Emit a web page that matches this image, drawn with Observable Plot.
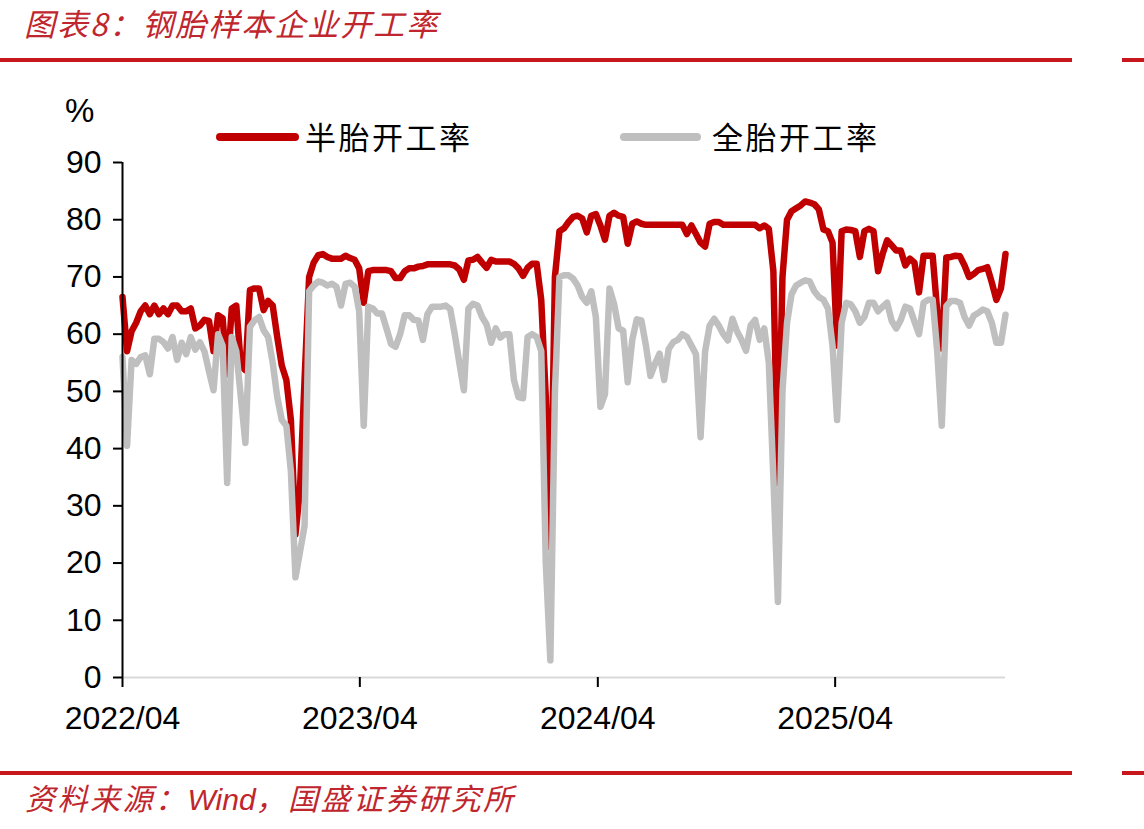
<!DOCTYPE html>
<html><head><meta charset="utf-8">
<script src="https://cdn.jsdelivr.net/npm/d3@7"></script>
<script src="https://cdn.jsdelivr.net/npm/@observablehq/plot@0.6"></script>
<style>
html,body{margin:0;padding:0;background:#fff;}
#wrap{position:relative;width:1144px;height:829px;overflow:hidden;background:#fff;}
#chart{position:absolute;left:0;top:0;}
.abs{position:absolute;white-space:nowrap;}
.cjk{font-family:"Noto Sans CJK SC",sans-serif;}
.rule{position:absolute;height:4px;background:#c8161d;}
</style>
</head><body>
<div id="wrap">
  <div id="chart"></div>
  <div class="abs cjk" id="title" style="left:24px;top:0px;padding-right:10px;font-size:31px;line-height:46px;letter-spacing:2px;font-style:italic;color:#c0262d;">图表8：钢胎样本企业开工率</div>
  <div class="rule" style="left:0;top:58px;width:1072px;"></div>
  <div class="rule" style="left:1122px;top:58px;width:22px;"></div>
  <div class="abs" style="left:65px;top:94px;font-family:'Liberation Sans',Arial,sans-serif;font-size:33px;line-height:33px;color:#000;">%</div>
  <div class="abs" style="left:216px;top:133px;width:83px;height:8px;background:#c00000;border-radius:4px;"></div>
  <div class="abs cjk" id="leg1" style="left:305px;top:119px;font-size:31px;line-height:34px;letter-spacing:2.5px;color:#000;"></div>
  <div class="abs" style="left:620px;top:133px;width:81px;height:8px;background:#bfbfbf;border-radius:4px;"></div>
  <div class="abs cjk" id="leg2" style="left:712px;top:119px;font-size:31px;line-height:34px;letter-spacing:2.5px;color:#000;"></div>
  <div class="rule" style="left:0;top:771px;width:1072px;"></div>
  <div class="rule" style="left:1122px;top:771px;width:22px;"></div>
  <div class="abs cjk" style="left:25px;top:780px;padding-right:10px;font-size:30px;line-height:34px;letter-spacing:2.5px;font-style:italic;color:#c0262d;">资料来源：<span style="font-family:'Liberation Sans',Arial,sans-serif;letter-spacing:0;">Wind</span>，国盛证券研究所</div>
</div>
<script>
// Series names
const seriesNames = ["半胎开工率", "全胎开工率"];
// Weekly observations start date (one value per week)
const firstWeek = "2022-04-01";
// 半胎开工率 (%)
const halfSteelRate = [
66.5,57,60.5,62,64,65,63.5,65,63.5,64.5,
63.5,65,65,64,64,64.5,61,61.5,62.5,62.3,
57,63.3,62.8,53,64.5,65,54.5,53.7,67.7,68,
68,64.2,65.8,65,59.5,54.5,52,45,25,33,
52,70,72.5,73.8,74,73.5,73.2,73.2,73.2,73.7,
73.3,73,71.5,65.5,71,71.2,71.2,71.2,71.2,71,
69.8,69.8,71,71.5,71.5,71.8,71.9,72.2,72.2,72.2,
72.2,72.2,72.2,72,71.3,69.5,72.9,73,73.5,72.5,
71.6,73,72.7,72.7,72.7,72.7,72.3,71.5,70.2,71.6,
72.3,72.3,66,49,22.8,70,78,78.5,79.6,80.5,
80.7,80.2,77.8,80.7,81,79,76.5,80.7,81.2,80.7,
80.5,75.8,79.3,79.7,79.3,79.1,79.1,79.1,79.1,79.1,
79.1,79.1,79.1,79.1,77.5,79,77.5,76,75.3,79.3,
79.6,79.6,79.1,79.1,79.1,79.1,79.1,79.1,79.1,79.1,
78.5,79,78.4,71,34,70,80,81.5,82,82.5,
83.2,83,82.7,81.8,78.3,78,76,58,78,78.3,
78.2,78,73.5,78,78.4,78,71,74,76.4,75.5,
74.6,74.6,72,73.2,72.5,67.3,73.7,73.7,73.7,64,
57.5,73.4,73.5,73.7,73.6,72,70,70.5,71.2,71.4,
71.7,69,66,68,74
];
// 全胎开工率 (%)
const allSteelRate = [
56,40.5,55.5,54.8,56,56.3,53,59.2,59.2,58.6,
57.5,59.5,55.5,58.5,56.5,59.5,57.3,58.6,57,53.5,
50.2,60,58,34,59.5,57,49,41,61.3,62.4,
63,60.7,59.5,55,49,45,44,36,17.5,22,
26.5,67.5,68.5,69.2,69,68.5,68.8,68.3,65,68.8,
69,68.3,64,44,64.8,64.5,63.6,63.6,61,58.3,
57.8,60,63.3,63.3,62.5,62.4,59,63.5,64.8,64.8,
64.8,65,64.4,60,55,50.2,64.5,65.3,65,63,
61.7,58.5,61,59.4,60,60,52,49,48.8,59.5,
60,59.5,57,20,3,49.6,70,70.3,70.3,69.7,
68.5,66.5,65.5,67.5,63,47.3,49.5,68,65.3,61,
60.6,51.6,59,62.6,62.4,58,52.7,54.8,56.6,52,
57.4,58.6,59,60,59.5,58,56.5,42,57,61.5,
62.7,61.5,60,58.9,62.7,60.5,59,57.1,61.5,62.5,
59,61,55,35,13.2,50,62,67,68.5,69,
69.4,69.2,67.5,66.5,66,64.5,58,45,62,65.5,
65.2,64,62,63,65.5,65.5,64,64.8,65.5,62.3,
61,62.5,64.8,64.5,62.2,60,65.5,66,66,57,
44,64.9,65.8,65.8,65.5,63,61.5,63.2,63.7,64.3,
64,62,58.5,58.5,63.4
];
// Axis ticks
const xTickDates = ["2022-04-01","2023-04-01","2024-04-01","2025-04-01"];
const xTickLabels = ["2022/04","2023/04","2024/04","2025/04"];
const yTicks = [0,10,20,30,40,50,60,70,80,90];

document.getElementById("leg1").textContent = seriesNames[0];
document.getElementById("leg2").textContent = seriesNames[1];

const t0 = new Date(firstWeek + "T00:00:00Z").getTime();
const rows = halfSteelRate.map((v, i) => ({date: new Date(t0 + i * 7 * 864e5), half: v, all: allSteelRate[i]}));
const xt = xTickDates.map(d => new Date(d + "T00:00:00Z"));
const font = '"Liberation Sans", Arial, sans-serif';

const chart = Plot.plot({
  width: 1144, height: 829,
  marginLeft: 122, marginRight: 139, marginTop: 162, marginBottom: 152,
  style: {fontFamily: font, fontSize: "32px", color: "#000", background: "transparent", overflow: "visible"},
  x: {type: "utc", domain: [rows[0].date, rows[rows.length - 1].date]},
  y: {domain: [0, 90]},
  marks: [
    Plot.ruleY([0], {stroke: "#d9d9d9", strokeWidth: 2}),
    Plot.lineY(rows, {x: "date", y: "half", stroke: "#c00000", strokeWidth: 6.5, strokeLinejoin: "round", strokeLinecap: "round"}),
    Plot.lineY(rows, {x: "date", y: "all", stroke: "#bfbfbf", strokeWidth: 6.5, strokeLinejoin: "round", strokeLinecap: "round"}),
    Plot.ruleX([rows[0].date], {stroke: "#000", strokeWidth: 2}),
    Plot.axisY({ticks: yTicks, tickSize: 9, tickPadding: 12, label: null, fontSize: 32, strokeWidth: 2, stroke: "#000", fill: "#000"}),
    Plot.axisX({ticks: xt, tickFormat: (d) => xTickLabels[xt.findIndex(t => +t === +d)], tickSize: 10, tickPadding: 19, label: null, fontSize: 32, strokeWidth: 2, stroke: "#000", fill: "#000"})
  ]
});
document.getElementById("chart").appendChild(chart);
</script>
</body></html>
